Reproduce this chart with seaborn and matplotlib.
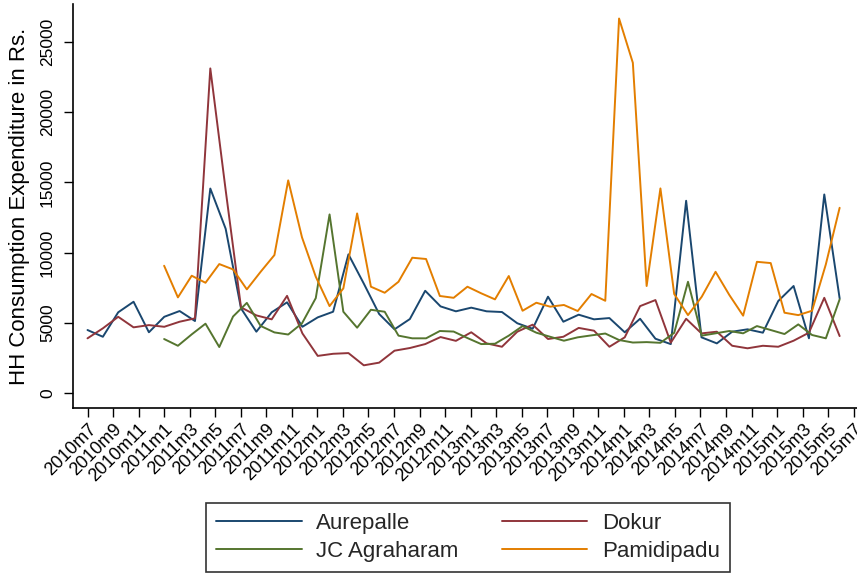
import numpy as np
import pandas as pd
import matplotlib
matplotlib.use("Agg")
import matplotlib.pyplot as plt
from matplotlib.lines import Line2D
import matplotlib.transforms as mtransforms
import seaborn as sns

# Monthly axis: months counted from 2010m7, labelled every second month
tick_months = list(range(0, 61, 2))
tick_labels = [
    "2010m7", "2010m9", "2010m11", "2011m1", "2011m3", "2011m5", "2011m7",
    "2011m9", "2011m11", "2012m1", "2012m3", "2012m5", "2012m7", "2012m9",
    "2012m11", "2013m1", "2013m3", "2013m5", "2013m7", "2013m9", "2013m11",
    "2014m1", "2014m3", "2014m5", "2014m7", "2014m9", "2014m11", "2015m1",
    "2015m3", "2015m5", "2015m7",
]
y_ticks = [0, 5000, 10000, 15000, 20000, 25000]

# Survey rounds (in months since 2010m7) for the two groups of villages
rounds_a = np.linspace(0.0, 58.9, 50)   # Aurepalle, Dokur
rounds_b = np.linspace(6.0, 58.9, 50)   # JC Agraharam, Pamidipadu

aurepalle = [4500, 4020, 5760, 6510, 4340, 5440, 5850, 5140, 14560, 11700,
             6040, 4380, 5760, 6470, 4730, 5400, 5800, 9880, 7800, 5640,
             4550, 5280, 7290, 6180, 5830, 6090, 5830, 5780, 4980, 4590,
             6870, 5090, 5590, 5260, 5350, 4340, 5300, 3880, 3500, 13690,
             3980, 3550, 4380, 4550, 4310, 6560, 7630, 3910, 14140, 6750]
dokur = [3910, 4620, 5440, 4690, 4850, 4730, 5090, 5330, 23100, 14450,
         6110, 5540, 5260, 6930, 4260, 2660, 2810, 2860, 1990, 2180,
         3030, 3220, 3500, 4000, 3730, 4340, 3550, 3310, 4380, 4880,
         3860, 4020, 4650, 4450, 3310, 3980, 6200, 6630, 3600, 5300,
         4260, 4380, 3380, 3200, 3380, 3310, 3740, 4310, 6790, 4070]
jc_agraharam = [3860, 3380, 4190, 4950, 3290, 5460, 6430, 4790, 4330, 4180,
                4975, 6770, 12720, 5800, 4665, 5940, 5800, 4100, 3910, 3910,
                4430, 4390, 3930, 3500, 3525, 4100, 4780, 4310, 4020, 3740,
                3980, 4120, 4250, 3790, 3610, 3640, 3590, 4300, 7930, 4100,
                4265, 4430, 4265, 4780, 4500, 4215, 4900, 4145, 3910, 6680]
pamidipadu = [9070, 6820, 8360, 7860, 9190, 8810, 7390, 8640, 9830, 15140,
              11090, 8290, 6200, 7460, 12790, 7580, 7150, 7930, 9640, 9550,
              6920, 6790, 7580, 7110, 6680, 8340, 5870, 6440, 6160, 6280,
              5850, 7060, 6580, 26650, 23500, 7630, 14570, 7060, 5560, 6870,
              8640, 6990, 5520, 9350, 9260, 5730, 5560, 5870, 9170, 13190]

villages = ["Aurepalle", "Dokur", "JC Agraharam", "Pamidipadu"]
colors = {
    "Aurepalle": "#1a476f",
    "Dokur": "#90353b",
    "JC Agraharam": "#55752f",
    "Pamidipadu": "#e37e00",
}

df = pd.concat([
    pd.DataFrame({"month": rounds_a, "spend": aurepalle, "village": "Aurepalle"}),
    pd.DataFrame({"month": rounds_a, "spend": dokur, "village": "Dokur"}),
    pd.DataFrame({"month": rounds_b, "spend": jc_agraharam, "village": "JC Agraharam"}),
    pd.DataFrame({"month": rounds_b, "spend": pamidipadu, "village": "Pamidipadu"}),
], ignore_index=True)

sns.set_theme(style="white")
plt.rcParams["font.family"] = ["Liberation Sans", "DejaVu Sans"]

W, H = 857, 581
fig = plt.figure(figsize=(W / 100, H / 100), dpi=100)
fig.patch.set_facecolor("white")
left, right, top, bottom = 72.7, 857.0, 4.0, 408.3
ax = fig.add_axes([left / W, 1 - bottom / H, (right - left) / W, (bottom - top) / H])

lw = 1.4
sns.lineplot(data=df, x="month", y="spend", hue="village", hue_order=villages,
             palette=colors, estimator=None, sort=False, linewidth=lw,
             ax=ax, legend=False)

ax.set_xlim(-1.16, 60.26)
ax.set_ylim(-1066, 27681)

for s in ["top", "right"]:
    ax.spines[s].set_visible(False)
for s in ["left", "bottom"]:
    ax.spines[s].set_color("black")
    ax.spines[s].set_linewidth(1.2)

ax.set_xticks(tick_months)
ax.set_xticklabels(tick_labels, rotation=45, ha="right", va="top",
                   rotation_mode="anchor", fontsize=13)
# nudge the slanted month labels a touch to the left so they end at the tick
shift = mtransforms.ScaledTranslation(-2 / 100, 0, fig.dpi_scale_trans)
for lab in ax.get_xticklabels():
    lab.set_transform(lab.get_transform() + shift)
ax.set_yticks(y_ticks)
ax.set_yticklabels([str(v) for v in y_ticks], rotation=90, va="center",
                   fontsize=12.5)
ax.tick_params(axis="x", bottom=True, length=6.8, width=1.0, pad=2,
               color="black", labelcolor="black")
ax.tick_params(axis="y", left=True, length=6.8, width=1.0, pad=6,
               color="black", labelcolor="black")

ax.set_xlabel("")
ax.set_ylabel("HH Consumption Expenditure in Rs.", fontsize=16,
              color="black", labelpad=7)

handles = [Line2D([], [], color=colors[v], lw=lw) for v in villages]
order = [0, 2, 1, 3]
leg = fig.legend([handles[i] for i in order], [villages[i] for i in order],
                 ncol=2, loc="upper center",
                 bbox_to_anchor=(468 / W, 1 - 503 / H),
                 fontsize=16, frameon=True, fancybox=False, shadow=False,
                 edgecolor="black", facecolor="white",
                 handlelength=3.85, handletextpad=0.65, columnspacing=1.95,
                 borderpad=0.45, labelspacing=0.32, borderaxespad=0)
leg.get_frame().set_linewidth(1.2)

fig.savefig("out.png", dpi=100, facecolor="white")
